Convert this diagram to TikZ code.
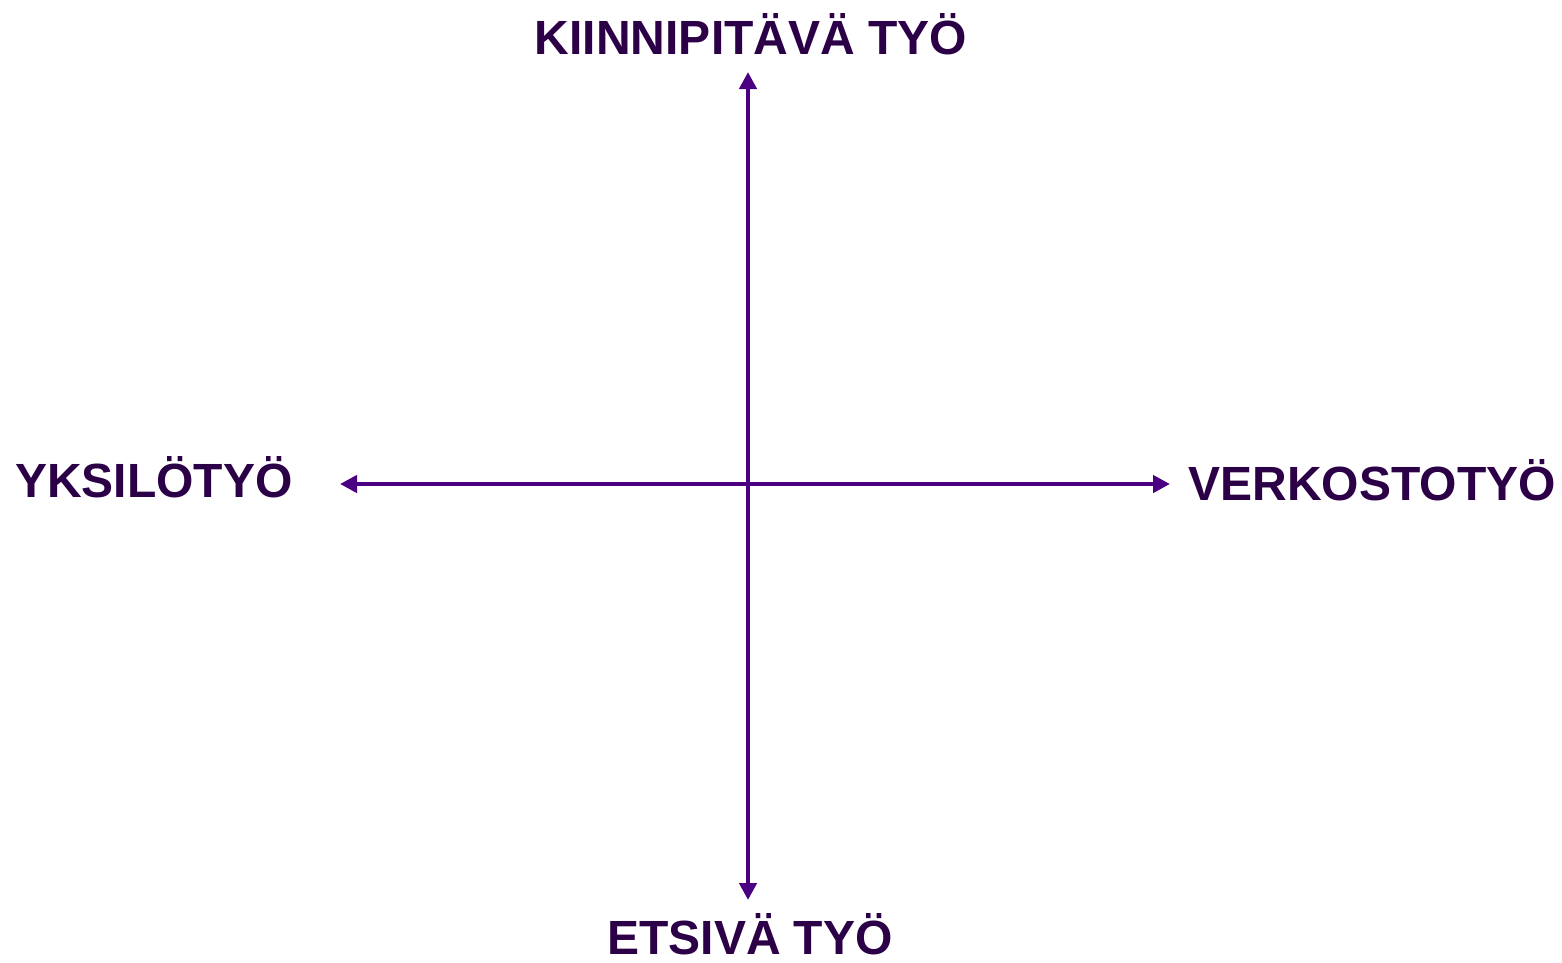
\documentclass[tikz,border=0pt]{standalone}
\usepackage{fontspec}
\setmainfont{Liberation Sans}
\usetikzlibrary{arrows.meta}
\definecolor{txtc}{HTML}{2B0047}
\definecolor{axc}{HTML}{4B0082}
\begin{document}
\begin{tikzpicture}[x=1pt,y=-1pt,
  lbl/.style={font=\fontsize{48}{52}\selectfont\bfseries, text=txtc, inner sep=0pt, anchor=base},
  axis/.style={draw=axc, line width=4.3pt, {Triangle[length=17pt,width=17pt]}-{Triangle[length=17pt,width=17pt]}}]
\useasboundingbox (0,0) rectangle (1562,962);
\coordinate (t) at (748,72);
\coordinate (b) at (748,900);
\coordinate (l) at (340,484);
\coordinate (r) at (1170,484);
\draw[axis] (b) -- (t);
\draw[axis] (l) -- (r);
\node[lbl] (top) at (751,54) {KIINNIPITÄVÄ TYÖ};
\node[lbl] (bot) at (750,954) {ETSIVÄ TYÖ};
\node[lbl, anchor=base west] (left) at (15,497) {YKSILÖTYÖ};
\node[lbl, anchor=base east] (right) at (1556,500) {VERKOSTOTYÖ};
\end{tikzpicture}
\end{document}
